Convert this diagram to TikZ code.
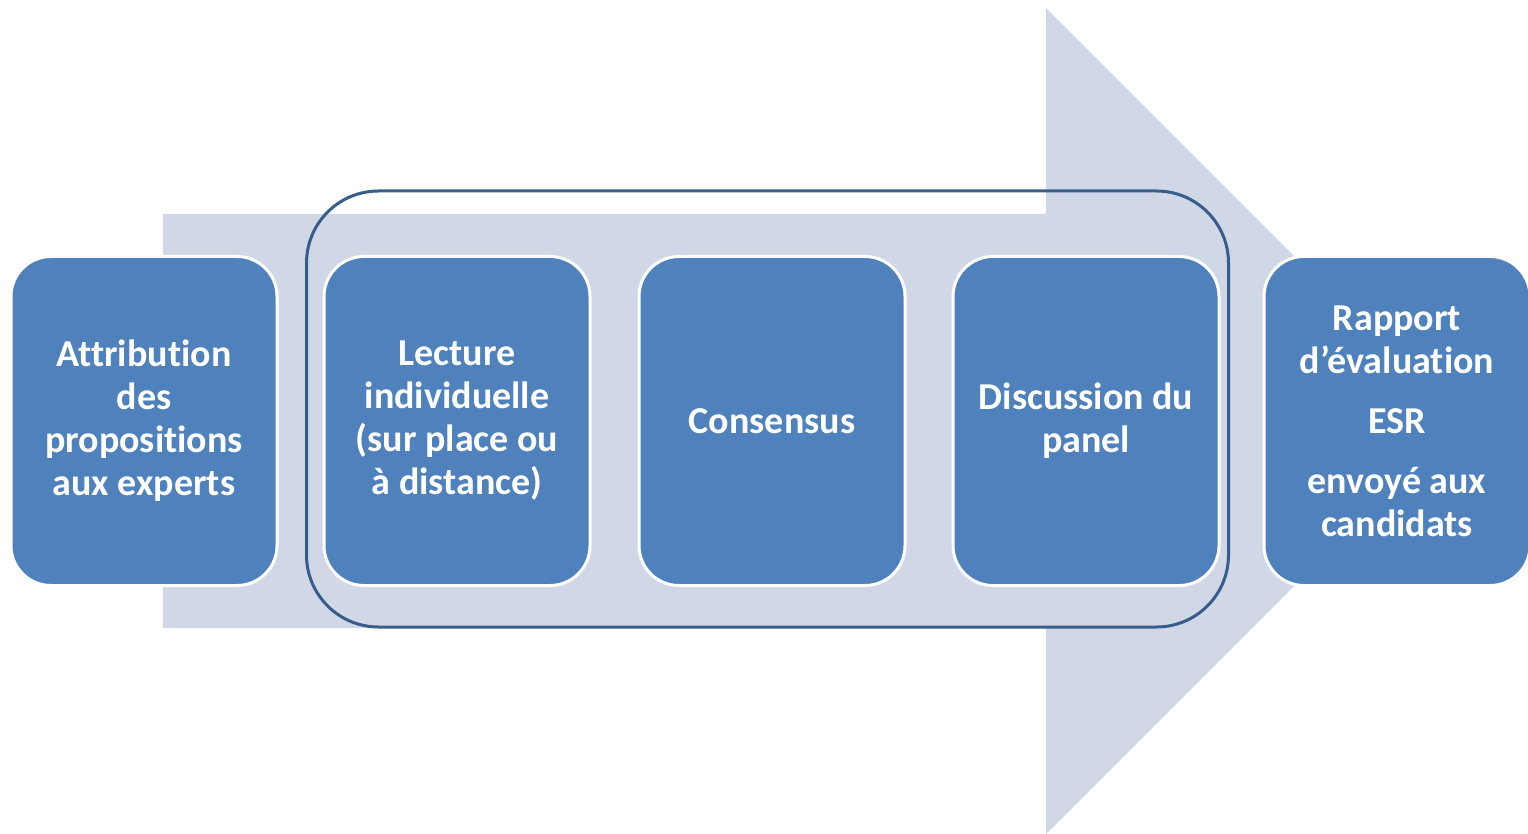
\documentclass[tikz,border=0pt]{standalone}
\usepackage{fontspec}
\setmainfont{Carlito}[Ligatures=NoCommon]
\definecolor{boxblue}{HTML}{4F81BD}
\definecolor{arrowgray}{HTML}{D0D8E8}
\definecolor{panelblue}{HTML}{385D8A}
\tikzset{
  stepbox/.style={draw=white, line width=3pt, fill=boxblue, rounded corners=40pt,
    minimum width=266pt, minimum height=329pt, inner sep=0pt, align=center,
    text=white, font=\fontsize{38}{43}\selectfont\bfseries},
  panelbox/.style={draw=panelblue, line width=3pt, rounded corners=72pt,
    minimum width=922pt, minimum height=436pt, inner sep=0pt}
}
\begin{document}
\begin{tikzpicture}[x=1pt,y=-1pt]
\useasboundingbox (0,0) rectangle (1528,834);
% big background arrow
\fill[arrowgray] (163,214) -- (1046,214) -- (1046,8) -- (1459,421) -- (1046,834) -- (1046,628) -- (163,628) -- cycle;
% panel group
\node[panelbox] (panel) at (767.5,409) {};
% steps
\node[stepbox] (attr) at (144,421) {Attribution\\des\\propositions\\aux experts};
\node[stepbox] (lect) at (457,421) {Lecture\\individuelle\\(sur place ou\\à distance)};
\node[stepbox] (cons) at (772,421) {Consensus};
\node[stepbox] (disc) at (1086,421) {Discussion du\\panel};
\node[stepbox] (rapp) at (1397,421) {Rapport\\d’évaluation\\[17pt]ESR\\[17pt]envoyé aux\\candidats};
\end{tikzpicture}
\end{document}
